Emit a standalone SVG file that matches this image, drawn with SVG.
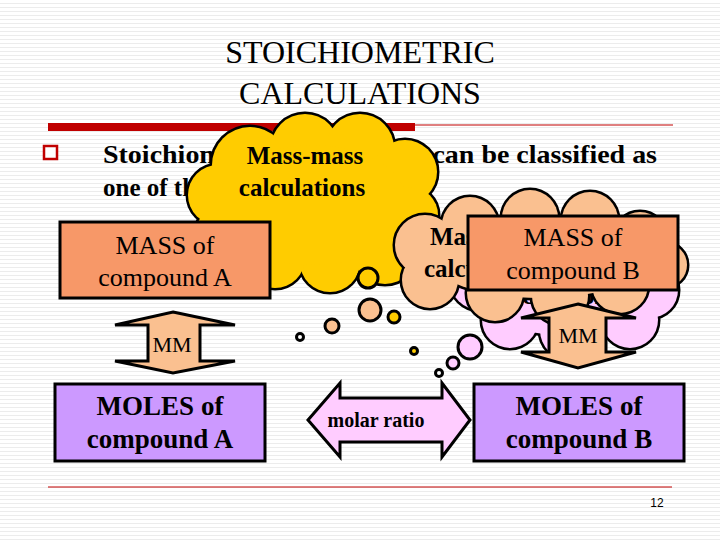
<svg xmlns="http://www.w3.org/2000/svg" width="720" height="540" viewBox="0 0 720 540">
<defs>
<pattern id="stripes" width="4" height="4" patternUnits="userSpaceOnUse"><rect width="4" height="4" fill="#ffffff"/><rect y="3" width="4" height="1" fill="#ececec"/></pattern>
</defs>
<style>
text{font-family:'Liberation Serif','Times New Roman','DejaVu Serif',serif;fill:#000}
.b{font-weight:bold}
.ol{stroke:#000;stroke-width:3}
.cl{stroke:#000;stroke-width:5}
</style>
<rect width="720" height="540" fill="url(#stripes)"/>
<text x="360" y="63" font-size="32" text-anchor="middle">STOICHIOMETRIC</text>
<text x="360" y="104" font-size="32" text-anchor="middle">CALCULATIONS</text>
<rect x="48" y="123" width="367" height="8" fill="#c00000"/>
<line x1="415" y1="125" x2="673" y2="125" stroke="#c00000" stroke-width="1"/>
<rect x="44" y="146" width="13" height="13" fill="#fff" stroke="#c00000" stroke-width="2.5"/>
<text class="b" x="103" y="163" font-size="25" textLength="554" lengthAdjust="spacingAndGlyphs">Stoichiometric calculations can be classified as</text>
<text class="b" x="103" y="196" font-size="25">one of the following:</text>

<g id="cloud-yellow">
<g fill="#000" class="cl">
<circle cx="250" cy="165" r="38"/><circle cx="305" cy="148" r="34"/><circle cx="360" cy="148" r="34"/><circle cx="405" cy="172" r="32"/><circle cx="410" cy="215" r="28"/><circle cx="385" cy="252" r="32"/><circle cx="330" cy="262" r="30"/><circle cx="275" cy="258" r="30"/><circle cx="225" cy="235" r="30"/><circle cx="218" cy="195" r="30"/><ellipse cx="313" cy="205" rx="95" ry="60"/>
</g>
<g fill="#ffcc00">
<circle cx="250" cy="165" r="38"/><circle cx="305" cy="148" r="34"/><circle cx="360" cy="148" r="34"/><circle cx="405" cy="172" r="32"/><circle cx="410" cy="215" r="28"/><circle cx="385" cy="252" r="32"/><circle cx="330" cy="262" r="30"/><circle cx="275" cy="258" r="30"/><circle cx="225" cy="235" r="30"/><circle cx="218" cy="195" r="30"/><ellipse cx="313" cy="205" rx="95" ry="60"/>
</g>
<text class="b" x="305" y="164" font-size="25" text-anchor="middle">Mass-mass</text>
<text class="b" x="302" y="196" font-size="25" text-anchor="middle">calculations</text>
</g>

<g id="bubbles">
<circle cx="368" cy="278" r="10" fill="#ffcc00" class="ol"/>
<circle cx="370" cy="310" r="11" fill="#fac090" class="ol"/>
<circle cx="394" cy="317" r="6" fill="#ffcc00" class="ol"/>
<circle cx="332" cy="326" r="7" fill="#fac090" class="ol"/>
<circle cx="300" cy="337" r="3.5" fill="#fff" class="ol"/>
<circle cx="414" cy="351" r="3.5" fill="#ffcc00" class="ol"/>
<circle cx="470" cy="347" r="12" fill="#ffccff" class="ol"/>
<circle cx="453" cy="363" r="6" fill="#ffccff" class="ol"/>
<circle cx="439" cy="373" r="3.5" fill="#fff" class="ol"/>
</g>

<g id="cloud-pink">
<g class="cl" fill="#000">
<circle cx="480" cy="280" r="30"/><circle cx="540" cy="265" r="32"/><circle cx="605" cy="265" r="32"/><circle cx="650" cy="290" r="28"/><circle cx="630" cy="320" r="28"/><circle cx="570" cy="330" r="30"/><circle cx="510" cy="320" r="28"/><ellipse cx="565" cy="295" rx="90" ry="40"/>
</g>
<g fill="#ffccff">
<circle cx="480" cy="280" r="30"/><circle cx="540" cy="265" r="32"/><circle cx="605" cy="265" r="32"/><circle cx="650" cy="290" r="28"/><circle cx="630" cy="320" r="28"/><circle cx="570" cy="330" r="30"/><circle cx="510" cy="320" r="28"/><ellipse cx="565" cy="295" rx="90" ry="40"/>
</g>
<text class="b" x="555" y="304" font-size="25" text-anchor="middle">calculations</text>
</g>

<g id="cloud-peach">
<g class="cl" fill="#000">
<circle cx="425" cy="245" r="30"/><circle cx="470" cy="225" r="28"/><circle cx="530" cy="218" r="28"/><circle cx="590" cy="220" r="28"/><circle cx="640" cy="238" r="26"/><circle cx="665" cy="265" r="22"/><circle cx="620" cy="285" r="28"/><circle cx="560" cy="296" r="28"/><circle cx="495" cy="293" r="28"/><circle cx="430" cy="280" r="28"/><ellipse cx="540" cy="258" rx="110" ry="40"/>
</g>
<g fill="#fac090">
<circle cx="425" cy="245" r="30"/><circle cx="470" cy="225" r="28"/><circle cx="530" cy="218" r="28"/><circle cx="590" cy="220" r="28"/><circle cx="640" cy="238" r="26"/><circle cx="665" cy="265" r="22"/><circle cx="620" cy="285" r="28"/><circle cx="560" cy="296" r="28"/><circle cx="495" cy="293" r="28"/><circle cx="430" cy="280" r="28"/><ellipse cx="540" cy="258" rx="110" ry="40"/>
</g>
<text class="b" x="430" y="245" font-size="25">Mass-mass</text>
<text class="b" x="424" y="277" font-size="25">calculations</text>
</g>

<g id="mass-a">
<rect x="60" y="222" width="210" height="76" fill="#f79868" class="ol"/>
<text x="165" y="254" font-size="26" text-anchor="middle">MASS of</text>
<text x="165" y="286" font-size="26" text-anchor="middle">compound A</text>
</g>

<g id="mass-b">
<rect x="468" y="216" width="210" height="74" fill="#f79868" class="ol"/>
<text x="573" y="246" font-size="26" text-anchor="middle">MASS of</text>
<text x="573" y="279" font-size="26" text-anchor="middle">compound B</text>
</g>

<g id="connectors">
<g id="mm-a">
<path d="M173,312 L235,325 L200,325 L200,361 L235,361 L173,373 L115,361 L148,361 L148,325 L115,325 Z" fill="#fac090" class="ol"/>
<text x="172" y="352" font-size="22" text-anchor="middle">MM</text>
</g>
<g id="mm-b">
<path d="M578,304 L636,318 L606,318 L606,352 L636,352 L578,368 L521,352 L549,352 L549,318 L521,318 Z" fill="#fac090" class="ol"/>
<text x="578" y="343" font-size="22" text-anchor="middle">MM</text>
</g>
<g id="molar-ratio">
<path d="M308,420 L340,383 L340,398 L442,398 L442,383 L470,420 L442,457 L442,442 L340,442 L340,457 Z" fill="#ffccff" class="ol"/>
<text class="b" x="376" y="427" font-size="20" text-anchor="middle">molar ratio</text>
</g>
</g>

<g id="moles-a">
<rect x="55" y="384" width="210" height="77" fill="#cc99ff" class="ol"/>
<text class="b" x="160" y="415" font-size="27" text-anchor="middle">MOLES of</text>
<text class="b" x="160" y="448" font-size="27" text-anchor="middle">compound A</text>
</g>
<g id="moles-b">
<rect x="474" y="384" width="210" height="77" fill="#cc99ff" class="ol"/>
<text class="b" x="579" y="415" font-size="27" text-anchor="middle">MOLES of</text>
<text class="b" x="579" y="448" font-size="27" text-anchor="middle">compound B</text>
</g>

<line x1="48" y1="487" x2="672" y2="487" stroke="#c00000" stroke-width="1"/>
<text x="657" y="507" style="font-family:'Liberation Sans',Arial,sans-serif" font-size="12" text-anchor="middle">12</text>
</svg>
